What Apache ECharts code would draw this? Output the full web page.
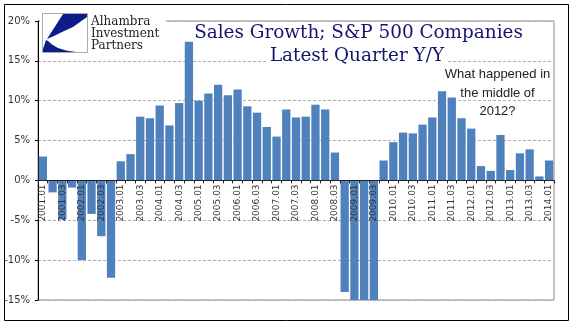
<!DOCTYPE html>
<html>
<head>
<meta charset="utf-8">
<script src="https://cdn.jsdelivr.net/npm/echarts@6/dist/echarts.min.js"></script>
<style>html,body{margin:0;padding:0;background:#fff;}#c{width:577px;height:325px;}</style>
</head>
<body>
<div id="c"></div>
<script>
var categories = ["2001.01","2001.02","2001.03","2001.04","2002.01","2002.02","2002.03","2002.04",
"2003.01","2003.02","2003.03","2003.04","2004.01","2004.02","2004.03","2004.04",
"2005.01","2005.02","2005.03","2005.04","2006.01","2006.02","2006.03","2006.04",
"2007.01","2007.02","2007.03","2007.04","2008.01","2008.02","2008.03","2008.04",
"2009.01","2009.02","2009.03","2009.04","2010.01","2010.02","2010.03","2010.04",
"2011.01","2011.02","2011.03","2011.04","2012.01","2012.02","2012.03","2012.04",
"2013.01","2013.02","2013.03","2013.04","2014.01"];
var salesGrowth = [3.0,-1.5,-4.9,-0.9,-10.0,-4.2,-7.0,-12.2,
2.4,3.3,8.0,7.8,9.4,6.9,9.7,17.4,
10.0,10.9,12.0,10.7,11.4,9.3,8.5,6.7,
5.5,8.9,7.9,8.0,9.5,8.9,3.5,-14.0,
-15,-15,-15,2.5,4.8,6.0,5.9,7.0,
7.9,11.2,10.4,7.8,6.5,1.8,1.2,5.7,
1.3,3.4,3.9,0.5,2.5];
var titleLines = ["Sales Growth; S&P 500 Companies","Latest Quarter Y/Y"];
var logoLines = ["Alhambra","Investment","Partners"];
var noteLines = ["What happened in","the middle of","2012?"];

var chart = echarts.init(document.getElementById('c'), null, {renderer:'canvas'});
chart.setOption({
  animation:false,
  backgroundColor:'#fff',
  grid:{left:38,right:23,top:21,bottom:25,show:true,borderColor:'#888',borderWidth:1,containLabel:false,outerBoundsMode:'none'},
  xAxis:{
    type:'category', data:categories, z:10,
    boundaryGap:true, position:'bottom', offset:-119.6,
    axisLine:{onZero:false,lineStyle:{color:'#222',width:1}},
    axisTick:{show:true,interval:0,length:3,lineStyle:{color:'#222'}},
    axisLabel:{interval:1,rotate:90,margin:4,fontFamily:'DejaVu Sans',fontSize:9,color:'#333'},
    splitLine:{show:false}
  },
  yAxis:{
    type:'value', min:-15, max:20, interval:5,
    axisLine:{show:true,lineStyle:{color:'#000',width:1}},
    axisTick:{show:true,length:3,lineStyle:{color:'#000'}},
    axisLabel:{formatter:'{value}%',margin:8,fontFamily:'DejaVu Sans',fontSize:10,color:'#333'},
    splitLine:{show:true,lineStyle:{color:'#b0b0b0',type:[3,2],width:1}}
  },
  series:[{
    type:'bar', data:salesGrowth, barCategoryGap:'15%',
    itemStyle:{color:'#4F81BD'}, z:2
  }],
  graphic:[
    {type:'rect',shape:{x:4.5,y:4.5,width:564,height:316},style:{fill:'none',stroke:'#000',lineWidth:1},z:100,silent:true},
    {type:'rect',shape:{x:40,y:11,width:126,height:46},style:{fill:'#fff'},z:50},
    {type:'rect',shape:{x:42.5,y:13.5,width:45,height:39},style:{fill:'#fff',stroke:'#aaa',lineWidth:1},z:51},
    {type:'polygon',shape:{points:[[63,14],[87,14],[87,17],[80,22],[73,27],[62,32],[54,36],[47,39]]},style:{fill:'#101b8a'},z:52},
    {type:'polygon',shape:{points:[[43,52],[76,52],[66,50.5],[58,48],[52,44.5],[48,41],[46,40],[44,46],[43,49]]},style:{fill:'#101b8a'},z:52},
    {type:'text',x:91,y:22,style:{text:logoLines[0],font:'12px "DejaVu Serif"',fill:'#222',verticalAlign:'middle'},z:53},
    {type:'text',x:91,y:33.5,style:{text:logoLines[1],font:'12px "DejaVu Serif"',fill:'#222',verticalAlign:'middle'},z:53},
    {type:'text',x:91,y:46,style:{text:logoLines[2],font:'12px "DejaVu Serif"',fill:'#222',verticalAlign:'middle'},z:53},
    {type:'text',x:358.5,y:33,style:{text:titleLines[0],font:'18.4px "DejaVu Serif"',fill:'#14146e',align:'center',verticalAlign:'middle'},z:53},
    {type:'text',x:357,y:56.3,style:{text:titleLines[1],font:'18.4px "DejaVu Serif"',fill:'#14146e',align:'center',verticalAlign:'middle',backgroundColor:'#fff',padding:[0,3]},z:53},
    {type:'text',x:497.5,y:74.8,style:{text:noteLines[0],font:'13px "Liberation Sans"',fill:'#222',align:'center',verticalAlign:'middle'},z:53},
    {type:'text',x:497.5,y:93.2,style:{text:noteLines[1],font:'13px "Liberation Sans"',fill:'#222',align:'center',verticalAlign:'middle'},z:53},
    {type:'text',x:497.5,y:111.5,style:{text:noteLines[2],font:'13px "Liberation Sans"',fill:'#222',align:'center',verticalAlign:'middle'},z:53}
  ]
});
</script>
</body>
</html>
